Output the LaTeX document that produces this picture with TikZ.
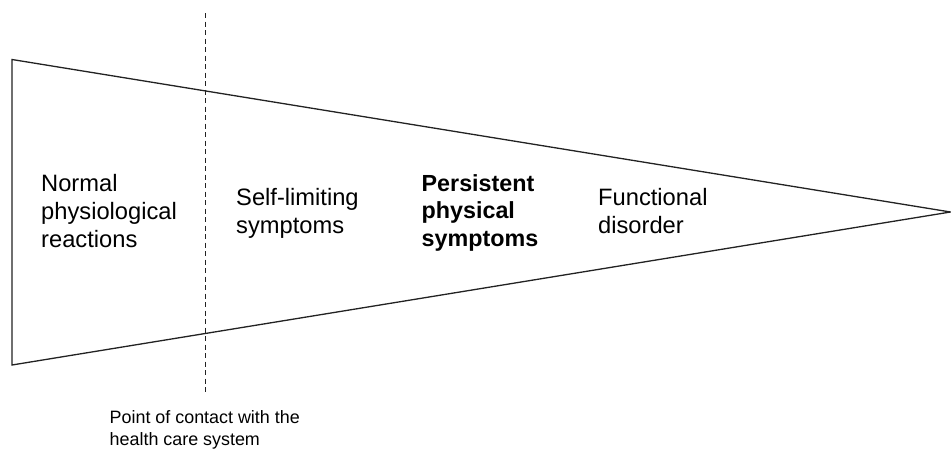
\documentclass[tikz,border=0pt]{standalone}
\usepackage{fontspec}
\setmainfont{Liberation Sans}
\usetikzlibrary{positioning}
\definecolor{inkline}{HTML}{222222}
\tikzset{
  stage/.style={font=\fontsize{23.7}{27.9}\selectfont, align=left,
                anchor=base west, inner sep=0pt},
  stagebold/.style={stage, font=\fontsize{23.3}{27.5}\selectfont\bfseries},
  note/.style={font=\fontsize{17.9}{22}\selectfont, align=left,
               anchor=base west, inner sep=0pt},
}
\begin{document}
\begin{tikzpicture}[x=1pt,y=-1pt]
  \useasboundingbox (0,0) rectangle (951,453);

  % ---- Funnel outline ------------------------------------------
  \coordinate (topleft) at (12,59.5);
  \coordinate (tip)     at (950.5,212);
  \coordinate (botleft) at (12,365);
  \draw[inkline,line width=1.3pt] (topleft) -- (tip) -- (botleft) -- cycle;

  % ---- Contact line --------------------------------------------
  \coordinate (cuttop) at (205,13);
  \coordinate (cutbot) at (205,395);
  \draw[inkline,line width=1pt,dash pattern=on 5pt off 3.5pt] (cuttop) -- (cutbot);

  % ---- Stages (placed at the baseline of their last line) ------
  \node[stage]     (normal)     at (41,247.7)  {Normal\\physiological\\reactions};
  \node[stage]     (selflim)    at (236,233)   {Self-limiting\\symptoms};
  \node[stagebold] (persist)    at (421.5,246) {Persistent\\physical\\symptoms};
  \node[stage]     (functional) at (598,233.3) {Functional\\disorder};

  % ---- Note below ----------------------------------------------
  \node[note] (contact) at (109.5,445) {Point of contact with the\\health care system};

\end{tikzpicture}
\end{document}
